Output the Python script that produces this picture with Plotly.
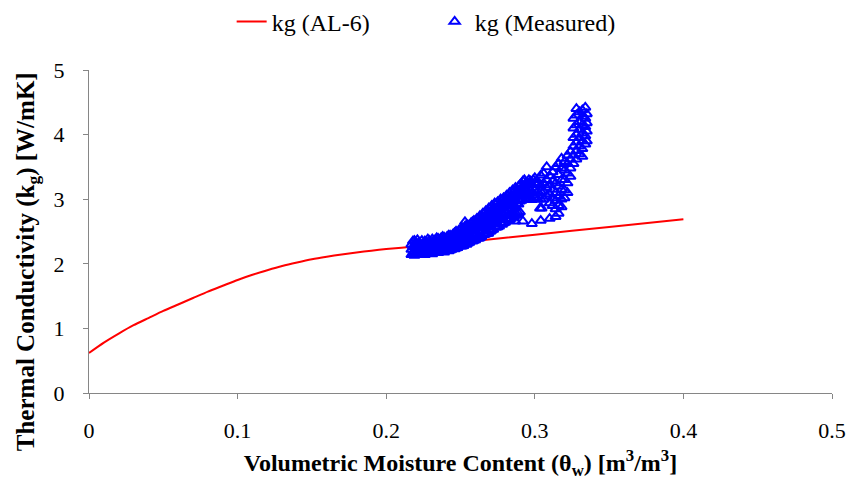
import plotly.graph_objects as go

# Model curve: gas-phase thermal conductivity from the AL-6 relation
theta_model = [0.0, 0.01, 0.02, 0.03, 0.04, 0.05, 0.06, 0.07, 0.08, 0.09, 0.10,
               0.11, 0.12, 0.13, 0.14, 0.15, 0.16, 0.17, 0.18, 0.19, 0.20,
               0.22, 0.25, 0.30, 0.35, 0.40]
kg_model = [0.62, 0.78, 0.92, 1.05, 1.16, 1.27, 1.37, 1.47, 1.57, 1.66, 1.75,
            1.83, 1.90, 1.965, 2.02, 2.07, 2.11, 2.145, 2.175, 2.203, 2.228,
            2.27, 2.33, 2.45, 2.57, 2.69]

# Measured moisture content / conductivity pairs
theta_meas = [
    0.217, 0.217, 0.217, 0.218, 0.218, 0.218, 0.219, 0.219, 0.219, 0.219,
    0.220, 0.220, 0.220, 0.221, 0.221, 0.221, 0.221, 0.222, 0.222, 0.222,
    0.223, 0.223, 0.223, 0.224, 0.224, 0.224, 0.225, 0.225, 0.225,
    0.226, 0.226, 0.226, 0.226, 0.227, 0.227, 0.227, 0.228, 0.228, 0.228, 0.228,
    0.230, 0.230, 0.230, 0.232, 0.232, 0.232, 0.234, 0.234, 0.234, 0.234,
    0.236, 0.236, 0.236, 0.238, 0.238, 0.238, 0.238, 0.240, 0.240, 0.240,
    0.242, 0.242, 0.242, 0.242, 0.244, 0.244, 0.244, 0.246, 0.246, 0.246, 0.246,
    0.248, 0.248, 0.248, 0.250, 0.250, 0.250, 0.250, 0.252, 0.252, 0.252,
    0.254, 0.254, 0.254, 0.254, 0.256, 0.256, 0.256, 0.258, 0.258, 0.258, 0.258,
    0.260, 0.260, 0.260, 0.262, 0.262, 0.262, 0.262, 0.264, 0.264, 0.264,
    0.266, 0.266, 0.266, 0.266, 0.268, 0.268, 0.268, 0.270, 0.270, 0.270, 0.270,
    0.272, 0.272, 0.272, 0.274, 0.274, 0.274, 0.274, 0.276, 0.276, 0.276,
    0.278, 0.278, 0.278, 0.278, 0.280, 0.280, 0.280, 0.282, 0.282, 0.282, 0.282,
    0.284, 0.284, 0.284, 0.286, 0.286, 0.286, 0.286, 0.288, 0.288, 0.288,
    0.290, 0.290, 0.290, 0.290, 0.292, 0.292, 0.292, 0.294, 0.294, 0.294,
    0.296, 0.296, 0.296, 0.298, 0.298, 0.298, 0.300, 0.300, 0.300, 0.300,
    0.302, 0.302, 0.302,
    0.304, 0.304, 0.304, 0.304, 0.304, 0.306, 0.306, 0.306, 0.306,
    0.308, 0.308, 0.308, 0.308, 0.310, 0.310, 0.310, 0.310, 0.310,
    0.312, 0.312, 0.312, 0.312, 0.312, 0.314, 0.314, 0.314, 0.314, 0.314, 0.314,
    0.316, 0.316, 0.316, 0.316, 0.316, 0.316, 0.318, 0.318, 0.318, 0.318, 0.318, 0.318,
    0.320, 0.320, 0.320, 0.320, 0.320, 0.322, 0.322, 0.322, 0.322, 0.322,
    0.324, 0.324, 0.324, 0.324,
    0.326, 0.326, 0.326, 0.326, 0.326, 0.326,
    0.328, 0.328, 0.328, 0.328, 0.328, 0.328, 0.328,
    0.330, 0.330, 0.330, 0.330, 0.330, 0.330,
    0.332, 0.332, 0.332, 0.332, 0.332, 0.332, 0.332,
    0.334, 0.334, 0.334, 0.334, 0.334, 0.335, 0.335, 0.335, 0.335,
    0.253, 0.2687, 0.2867, 0.292, 0.298, 0.3046, 0.3035,
    # return pass through the band
    0.229, 0.229, 0.229, 0.231, 0.231, 0.231, 0.231, 0.233, 0.233, 0.233,
    0.235, 0.235, 0.235, 0.235, 0.237, 0.237, 0.237, 0.239, 0.239, 0.239, 0.239,
    0.241, 0.241, 0.241, 0.243, 0.243, 0.243, 0.243, 0.245, 0.245, 0.245,
    0.247, 0.247, 0.247, 0.247, 0.249, 0.249, 0.249, 0.251, 0.251, 0.251, 0.251,
    0.253, 0.253, 0.253, 0.255, 0.255, 0.255, 0.255, 0.257, 0.257, 0.257,
    0.259, 0.259, 0.259, 0.259, 0.261, 0.261, 0.261, 0.263, 0.263, 0.263, 0.263,
    0.265, 0.265, 0.265, 0.267, 0.267, 0.267, 0.267, 0.269, 0.269, 0.269,
    0.271, 0.271, 0.271, 0.271, 0.273, 0.273, 0.273, 0.275, 0.275, 0.275, 0.275,
    0.277, 0.277, 0.277, 0.279, 0.279, 0.279, 0.279, 0.281, 0.281, 0.281,
    0.283, 0.283, 0.283, 0.283, 0.285, 0.285, 0.285, 0.287, 0.287, 0.287, 0.287,
    0.289, 0.289, 0.289, 0.289, 0.291, 0.291, 0.291, 0.293, 0.293, 0.293,
    0.295, 0.295, 0.297, 0.297, 0.297, 0.299, 0.299, 0.299,
]
kg_meas = [
    2.14, 2.22, 2.30, 2.17, 2.26, 2.35, 2.13, 2.20, 2.28, 2.36,
    2.16, 2.24, 2.32, 2.14, 2.21, 2.29, 2.37, 2.17, 2.25, 2.33,
    2.15, 2.22, 2.30, 2.18, 2.27, 2.36, 2.16, 2.23, 2.31,
    2.14, 2.20, 2.28, 2.35, 2.18, 2.26, 2.33, 2.16, 2.24, 2.31, 2.38,
    2.17, 2.25, 2.33, 2.19, 2.27, 2.36, 2.18, 2.26, 2.34, 2.40,
    2.20, 2.28, 2.37, 2.19, 2.27, 2.35, 2.42, 2.21, 2.30, 2.38,
    2.20, 2.28, 2.36, 2.44, 2.22, 2.31, 2.40, 2.23, 2.33, 2.43, 2.48,
    2.25, 2.35, 2.45, 2.27, 2.37, 2.47, 2.53, 2.28, 2.39, 2.50,
    2.30, 2.42, 2.53, 2.60, 2.33, 2.45, 2.56, 2.35, 2.47, 2.59, 2.65,
    2.37, 2.50, 2.62, 2.39, 2.52, 2.65, 2.70, 2.42, 2.55, 2.68,
    2.45, 2.58, 2.72, 2.78, 2.47, 2.61, 2.75, 2.50, 2.64, 2.79, 2.85,
    2.53, 2.67, 2.82, 2.56, 2.70, 2.86, 2.92, 2.58, 2.73, 2.89,
    2.61, 2.77, 2.93, 2.97, 2.64, 2.80, 2.96, 2.67, 2.83, 3.00, 3.05,
    2.70, 2.86, 3.03, 2.73, 2.90, 3.07, 3.12, 2.76, 2.93, 3.10,
    2.80, 2.97, 3.14, 3.22, 2.99, 3.12, 3.28, 3.00, 3.15, 3.25,
    3.02, 3.17, 3.30, 2.99, 3.10, 3.22, 3.02, 3.14, 3.26, 3.33,
    3.00, 3.12, 3.24,
    2.67, 3.00, 3.12, 3.22, 3.37, 3.00, 3.12, 3.25, 3.40,
    3.05, 3.18, 3.30, 3.50, 2.70, 2.94, 3.08, 3.22, 3.36,
    2.90, 3.02, 3.15, 3.28, 3.42, 2.73, 2.85, 2.98, 3.10, 3.25, 3.50,
    2.78, 2.90, 3.05, 3.20, 3.38, 3.55, 2.88, 3.00, 3.15, 3.30, 3.48, 3.63,
    3.02, 3.14, 3.30, 3.45, 3.58, 3.10, 3.25, 3.40, 3.55, 3.68,
    3.35, 3.48, 3.62, 3.74,
    3.55, 3.68, 3.82, 3.95, 4.10, 4.25,
    3.62, 3.75, 3.88, 4.00, 4.15, 4.30, 4.40,
    3.70, 3.82, 3.95, 4.08, 4.20, 4.35,
    3.66, 3.78, 3.90, 4.02, 4.15, 4.28, 4.38,
    3.85, 3.98, 4.12, 4.25, 4.42, 3.90, 4.05, 4.18, 4.32,
    2.65, 2.47, 2.66, 2.66, 2.62, 2.86, 2.86,
    # return pass through the band
    2.20, 2.29, 2.36, 2.15, 2.22, 2.30, 2.38, 2.21, 2.30, 2.37,
    2.17, 2.24, 2.32, 2.39, 2.22, 2.31, 2.40, 2.18, 2.25, 2.33, 2.41,
    2.24, 2.33, 2.42, 2.21, 2.27, 2.35, 2.44, 2.26, 2.36, 2.46,
    2.24, 2.30, 2.40, 2.50, 2.31, 2.42, 2.52, 2.27, 2.34, 2.45, 2.56,
    2.36, 2.47, 2.58, 2.32, 2.39, 2.50, 2.60, 2.41, 2.53, 2.63,
    2.36, 2.44, 2.56, 2.67, 2.46, 2.59, 2.70, 2.40, 2.49, 2.62, 2.74,
    2.52, 2.66, 2.78, 2.46, 2.56, 2.70, 2.82, 2.59, 2.73, 2.86,
    2.52, 2.62, 2.77, 2.90, 2.66, 2.81, 2.94, 2.57, 2.69, 2.84, 2.96,
    2.72, 2.88, 3.00, 2.63, 2.75, 2.91, 3.02, 2.79, 2.95, 3.06,
    2.68, 2.82, 2.99, 3.10, 2.85, 3.02, 3.14, 2.75, 2.88, 3.05, 3.18,
    2.78, 2.92, 3.09, 3.20, 2.98, 3.10, 3.24, 3.05, 3.20, 3.30,
    3.08, 3.22, 3.04, 3.14, 3.28, 3.06, 3.18, 3.30,
]

x_ticks = [0, 0.1, 0.2, 0.3, 0.4, 0.5]
y_ticks = [0, 1, 2, 3, 4, 5]

SERIF = "Liberation Serif"
AXIS_GREY = "#868686"

fig = go.Figure()
fig.add_trace(go.Scatter(
    x=theta_model, y=kg_model, mode="lines", name="kg (AL-6)",
    line=dict(color="#ff0000", width=2, shape="spline", smoothing=0.6),
))
fig.add_trace(go.Scatter(
    x=theta_meas, y=kg_meas, mode="markers", name="kg (Measured)",
    marker=dict(symbol="triangle-up-open", size=9, color="#0000ff",
                line=dict(width=2, color="#0000ff")),
))

axis_common = dict(
    showgrid=False, zeroline=False, showline=True, linecolor=AXIS_GREY,
    linewidth=1.3, ticks="outside", tickcolor=AXIS_GREY, ticklen=5,
    tickwidth=1.3, tickfont=dict(family=SERIF, size=22, color="#000000"),
)

fig.update_layout(
    width=853, height=491,
    margin=dict(l=89, r=21, t=70, b=98, autoexpand=False),
    paper_bgcolor="#ffffff", plot_bgcolor="#ffffff",
    font=dict(family=SERIF, color="#000000"),
    showlegend=True,
    legend=dict(
        orientation="h", x=0.192, xanchor="left", y=1.149, yanchor="middle",
        font=dict(family=SERIF, size=24), bgcolor="rgba(0,0,0,0)",
        entrywidth=158,
    ),
    xaxis=dict(
        range=[0, 0.5], tickvals=x_ticks, ticktext=[str(v) for v in x_ticks],
        ticklabelstandoff=12,
        title=dict(
            text="<b>Volumetric Moisture Content (θ<sub>w</sub>) [m<sup>3</sup>/m<sup>3</sup>]</b>",
            font=dict(family=SERIF, size=24), standoff=12,
        ),
        **axis_common,
    ),
    yaxis=dict(
        range=[0, 5], tickvals=y_ticks, ticklabelstandoff=14,
        **axis_common,
    ),
    annotations=[dict(
        text="<b>Thermal Conductivity (k<sub>g</sub>) [W/mK]</b>",
        xref="paper", yref="paper", x=-0.0834, y=0.405,
        xanchor="center", yanchor="middle", textangle=-90, showarrow=False,
        font=dict(family=SERIF, size=25, color="#000000"),
    )],
)

fig.write_html("out.html")
